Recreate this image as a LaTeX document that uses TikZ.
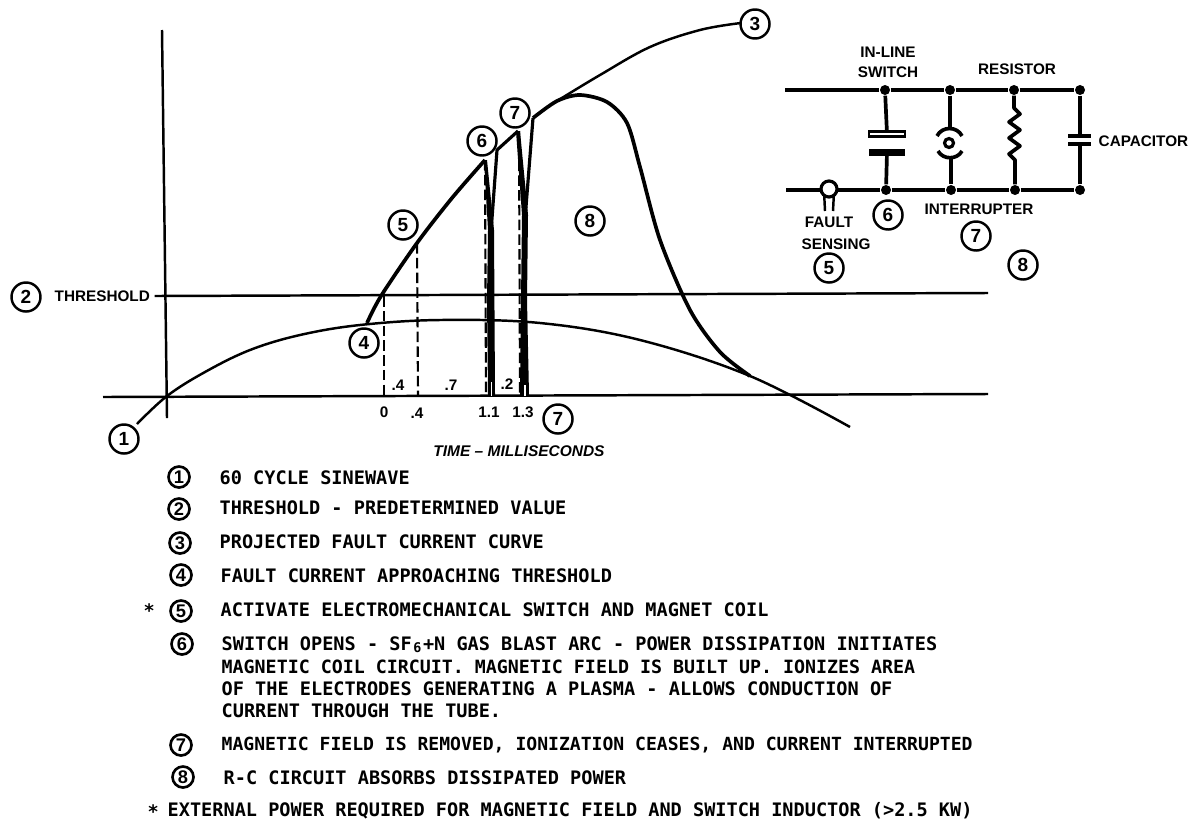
\documentclass[tikz,border=0pt]{standalone}
\usepackage{fontspec}
\setmainfont{Liberation Sans}
\setmonofont{DejaVu Sans Mono}
\usetikzlibrary{positioning}
\tikzset{%
	numcircle/.style={
		circle,
		draw,
		line width=0.7pt,
		inner sep=0pt,
		minimum size=0.29cm,
		font=\fontsize{5.4}{6}\selectfont\bfseries
	},
	legendcircle/.style={
		circle,
		draw,
		line width=0.75pt,
		inner sep=0pt,
		minimum size=0.21cm,
		font=\fontsize{5.2}{6}\selectfont\bfseries
	},
	legendtext/.style={
		anchor=west,
		inner sep=0pt,
		font=\fontsize{5.28}{6}\selectfont\ttfamily\bfseries
	},
	plotlabel/.style={
		inner sep=0pt,
		font=\fontsize{4.35}{5}\selectfont\bfseries
	},
	wiredot/.style={
		circle,
		fill=black,
		inner sep=0pt,
		minimum size=0.1cm
	},
	thinline/.style={line width=0.7pt},
	thickline/.style={line width=1.05pt},
	dashline/.style={line width=0.6pt, dash pattern=on 3pt off 1.2pt},
}

\begin{document}
\begin{tikzpicture}[x=0.01cm,y=-0.01cm]
	\useasboundingbox (0,0) rectangle (1192,821);

	% Axes and threshold line
	\coordinate (axisTop) at (162,30);
	\coordinate (axisBottom) at (167,418);
	\coordinate (timeLeft) at (103,397);
	\coordinate (timeRight) at (988,394);
	\coordinate (thresholdEnd) at (988,293);
	\draw[thinline] (axisTop) -- (axisBottom);
	\draw[thinline] (timeLeft) -- (timeRight);
	\node[numcircle] (thresholdNum) at (26,297) {2};
	\node[plotlabel, anchor=west] (thresholdLabel) at (54,296) {THRESHOLD};
	\draw[thinline] (thresholdLabel.east) ++(4,0) -- (thresholdEnd);

	% Sine wave
	\draw[thinline] plot[smooth, tension=0.6] coordinates {(137,424) (167,396) (205,372) (250,350) (300,335) (360,325) (440,320) (540,323) (640,340) (750,376) (850,427)};

	% Fault current up to the switch
	\draw[thickline, line join=round] plot[smooth, tension=0.5] coordinates {(367,323) (381,296) (417,243) (452,198) (485,160)};
	\draw[line width=0.9pt, line join=round] (491,232) -- (497,150) -- (518,131);
	\draw[line width=0.9pt] (524,232) -- (533,118);
	\fill (484,160) -- (487,160) -- (494,230) -- (495,395) -- (488,395) -- (487,300) -- (488,230) -- cycle;
	\fill (516,131) -- (520,131) -- (528,215) -- (527,300) -- (529,395) -- (520,395) -- (521,300) -- (522,215) -- cycle;
	\fill[white] (490.8,382) rectangle (492,396);
	\fill[white] (524.3,385) rectangle (525.5,396);

	% Current through the resistor and capacitor
	\draw[thickline] plot[smooth, tension=0.5] coordinates {(533,118) (557,101) (580,95) (607,102) (627,123) (640,167) (660,240) (690,310) (720,352) (750,376)};

	% Projected curve
	\draw[thinline] plot[smooth, tension=0.6] coordinates {(557,101) (600,75) (650,47) (700,30) (741,23)};

	% Dashed drop lines
	\draw[dashline] (384,296) -- (384,395);
	\draw[dashline] (417,243) -- (418,395);
	\draw[dashline] (485,160) -- (486,395);
	\draw[dashline] (519,131) -- (520,395);

	% Time labels
	\node[plotlabel] (spanA) at (398,385) {.4};
	\node[plotlabel] (spanB) at (451,385) {.7};
	\node[plotlabel] (spanC) at (507,384) {.2};
	\node[plotlabel] (tickA) at (384,412) {0};
	\node[plotlabel] (tickB) at (417,413) {.4};
	\node[plotlabel] (tickC) at (489,412) {1.1};
	\node[plotlabel] (tickD) at (523,412) {1.3};
	\node[plotlabel, font=\fontsize{4.4}{5}\selectfont\bfseries\itshape] (timeLabel) at (519,451) {TIME -- MILLISECONDS};

	% Numbers on the plot
	\node[numcircle] (curveOne) at (124,439) {1};
	\node[numcircle] (curveThree) at (755,24) {3};
	\node[numcircle] (curveFour) at (364,343) {4};
	\node[numcircle] (curveFive) at (403,225) {5};
	\node[numcircle] (curveSix) at (482,141) {6};
	\node[numcircle] (curveSeven) at (515,113) {7};
	\node[numcircle] (curveEight) at (590,221) {8};
	\node[numcircle] (tickSeven) at (558,419) {7};

	% Circuit dots
	\coordinate (topStart) at (785,90);
	\coordinate (botStart) at (786,190);
	\node[wiredot] (topA) at (885,90) {};
	\node[wiredot] (topB) at (950,90) {};
	\node[wiredot] (topC) at (1014,90) {};
	\node[wiredot] (topD) at (1080,90) {};
	\node[wiredot] (botA) at (886,190) {};
	\node[wiredot] (botB) at (951,190) {};
	\node[wiredot] (botC) at (1015,190) {};
	\node[wiredot] (botD) at (1080,190) {};
	\draw[thickline] (topStart) -- (topA) -- (topB) -- (topC) -- (topD);
	\draw[thickline] (botStart) -- (botA) -- (botB) -- (botC) -- (botD);

	% In-line switch
	\node[draw, line width=0.8pt, fill=white, inner sep=0pt, minimum width=0.36cm, minimum height=0.05cm] (plateOpen) at (887,134) {};
	\node[fill=black, inner sep=0pt, minimum width=0.36cm, minimum height=0.07cm] (plateSolid) at (887,152) {};
	\draw[thickline] (topA) -- (plateOpen);
	\draw[thickline] (plateSolid) -- (botA);

	% Interrupter
	\node[circle, draw, line width=0.9pt, inner sep=0pt, minimum size=0.09cm] (tubeCore) at (949,143) {};
	\coordinate (tubeTop) at (950,128);
	\coordinate (tubeBot) at (951,157);
	\draw[thickline] (937,136) .. controls (942,126) and (957,126) .. (962,136);
	\draw[thickline] (938,151) .. controls (943,160) and (957,160) .. (962,151);
	\draw[thickline] (topB) -- (tubeTop);
	\draw[thickline] (tubeBot) -- (botB);

	% Resistor
	\coordinate (resTop) at (1014,108);
	\coordinate (resBot) at (1015,160);
	\draw[thickline, line join=round] (topC) -- (resTop) -- (1020,114) -- (1009,122) -- (1020,130) -- (1009,138) -- (1020,146) -- (1009,154) -- (resBot) -- (botC);

	% Capacitor
	\coordinate (capTop) at (1080,136);
	\coordinate (capBot) at (1080,144);
	\draw[thickline] (topD) -- (capTop);
	\draw[thickline] (capBot) -- (botD);
	\draw[thickline] (1068,136) -- (1091,136);
	\draw[thickline] (1068,144) -- (1091,144);

	% Fault sensing loop
	\node[circle, draw, line width=0.9pt, fill=white, inner sep=0pt, minimum size=0.16cm] (sensorLoop) at (829,189) {};
	\coordinate (legLeft) at (825,211);
	\coordinate (legRight) at (833,211);
	\draw[thinline] (sensorLoop.south west) ++(2,0) -- (legLeft);
	\draw[thinline] (sensorLoop.south east) ++(-2,0) -- (legRight);

	% Circuit labels
	\node[plotlabel] (switchTop) at (888,52) {IN-LINE};
	\node[plotlabel] (switchBot) at (888,72) {SWITCH};
	\node[plotlabel] (resistorLabel) at (1017,69) {RESISTOR};
	\node[plotlabel, anchor=west] (capacitorLabel) at (1098,141) {CAPACITOR};
	\node[plotlabel] (faultLabel) at (829,222) {FAULT};
	\node[plotlabel] (sensingLabel) at (836,244) {SENSING};
	\node[plotlabel] (interrupterLabel) at (979,209) {INTERRUPTER};
	\node[numcircle] (circuitFive) at (829,268) {5};
	\node[numcircle] (circuitSix) at (888,215) {6};
	\node[numcircle] (circuitSeven) at (976,236) {7};
	\node[numcircle] (circuitEight) at (1023,265) {8};

	% Legend
	\node[legendcircle] (keyOne) at (179,477) {1};
	\node[legendcircle] (keyTwo) at (179,509) {2};
	\node[legendcircle] (keyThree) at (180,543) {3};
	\node[legendcircle] (keyFour) at (181,575) {4};
	\node[legendcircle] (keyFive) at (181,611) {5};
	\node[legendcircle] (keySix) at (182,644) {6};
	\node[legendcircle] (keySeven) at (181,745) {7};
	\node[legendcircle] (keyEight) at (183,777) {8};

	\node[legendtext] (lineOne) at (219,478) {60 CYCLE SINEWAVE};
	\node[legendtext] (lineTwo) at (219,508) {THRESHOLD - PREDETERMINED VALUE};
	\node[legendtext] (lineThree) at (219,542) {PROJECTED FAULT CURRENT CURVE};
	\node[legendtext] (lineFour) at (220,576) {FAULT CURRENT APPROACHING THRESHOLD};
	\node[legendtext] (lineFive) at (220,610) {ACTIVATE ELECTROMECHANICAL SWITCH AND MAGNET COIL};
	\node[legendtext] (lineSixA) at (221,645) {SWITCH OPENS - SF{\fontsize{3.8}{4}\selectfont\raisebox{-0.6pt}{\makebox[3.2pt]{6}}}+N GAS BLAST ARC - POWER DISSIPATION INITIATES};
	\node[legendtext, font=\fontsize{5.2}{6}\selectfont\ttfamily\bfseries] (lineSixB) at (221,667) {MAGNETIC COIL CIRCUIT. MAGNETIC FIELD IS BUILT UP. IONIZES AREA};
	\node[legendtext] (lineSixC) at (221,689) {OF THE ELECTRODES GENERATING A PLASMA - ALLOWS CONDUCTION OF};
	\node[legendtext] (lineSixD) at (221,711) {CURRENT THROUGH THE TUBE.};
	\node[legendtext, font=\fontsize{5.14}{6}\selectfont\ttfamily\bfseries] (lineSeven) at (221,745) {MAGNETIC FIELD IS REMOVED, IONIZATION CEASES, AND CURRENT INTERRUPTED};
	\node[legendtext] (lineEight) at (223,778) {R-C CIRCUIT ABSORBS DISSIPATED POWER};
	\node[legendtext] (starFive) at (143,611) {*};
	\node[legendtext] (starNote) at (147,812) {*};
	\node[legendtext] (lineNote) at (167,811) {EXTERNAL POWER REQUIRED FOR MAGNETIC FIELD AND SWITCH INDUCTOR (>2.5 KW)};
\end{tikzpicture}
\end{document}
